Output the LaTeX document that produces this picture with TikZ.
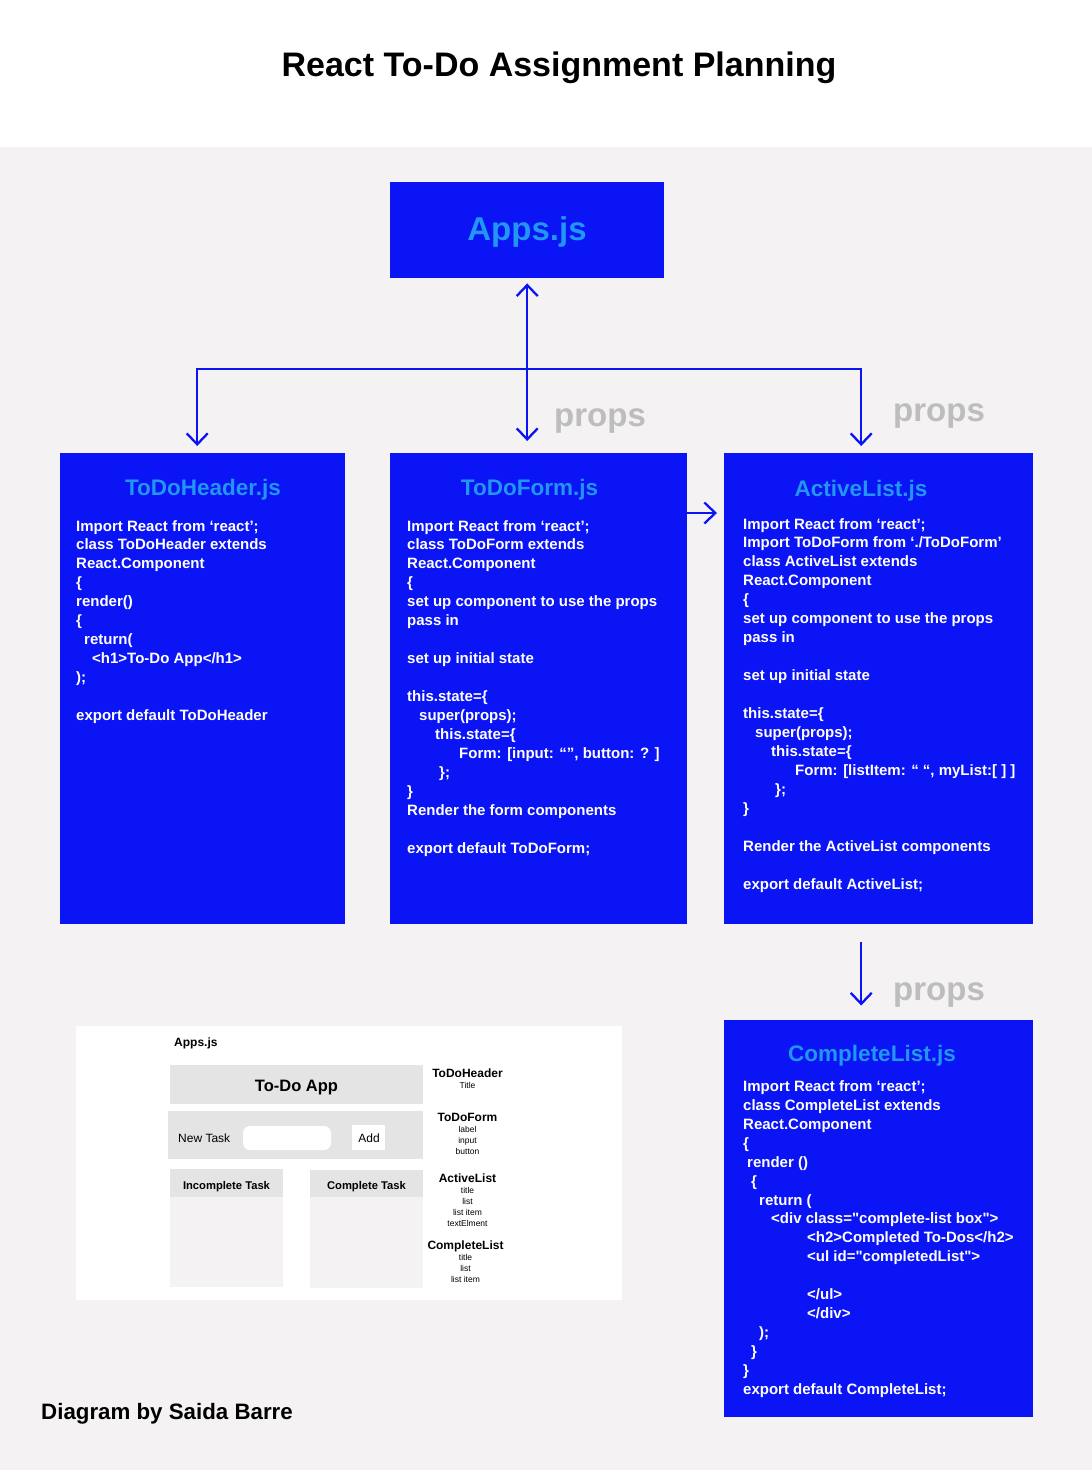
\documentclass[tikz,border=0pt]{standalone}
\usepackage{fontspec}
\setmainfont{Liberation Sans}
\usetikzlibrary{arrows.meta}

\definecolor{pagebg}{HTML}{F4F2F3}
\definecolor{compblue}{HTML}{0A14F5}
\definecolor{titleblue}{HTML}{2196F3}
\definecolor{propsgray}{HTML}{BDBDBD}
\definecolor{mockgray}{HTML}{E4E4E4}

\begin{document}
\begin{tikzpicture}[x=1pt,y=-1pt,
  compbox/.style={fill=compblue, draw=none, inner sep=0pt, anchor=north west},
  boxtitle/.style={anchor=base, inner sep=0pt, text=titleblue,
    font=\fontsize{22.5}{26}\selectfont\bfseries},
  code/.style={anchor=base west, inner sep=0pt, text=white,
    font=\fontsize{15}{18.95}\selectfont\bfseries},
  propslabel/.style={anchor=base west, inner sep=0pt, text=propsgray,
    font=\fontsize{33}{36}\selectfont\bfseries},
  link/.style={draw=compblue, line width=2.3pt},
  arr/.style={link, -{Straight Barb[length=11pt,width=21pt]}},
  darr/.style={link, {Straight Barb[length=11pt,width=21pt]}-{Straight Barb[length=11pt,width=21pt]}},
  mockbar/.style={fill=mockgray, draw=none, inner sep=0pt, anchor=north west},
  mockhead/.style={anchor=base, inner sep=0pt, font=\fontsize{12}{14}\selectfont\bfseries},
  mocksub/.style={anchor=base, inner sep=0pt, font=\fontsize{8.5}{10}\selectfont},
]

% page background
\fill[white] (0,0) rectangle (1092,147);
\fill[pagebg] (0,147) rectangle (1092,1470);
\useasboundingbox (0,0) rectangle (1092,1470);

% heading
\node[anchor=base, inner sep=0pt, font=\fontsize{34}{38}\selectfont\bfseries] (heading)
  at (559,76.7) {React To-Do Assignment Planning};

% component boxes
\node[compbox, minimum width=274pt, minimum height=96pt] (apps) at (390,182) {};
\node[compbox, minimum width=285pt, minimum height=471pt] (header) at (60,453) {};
\node[compbox, minimum width=297pt, minimum height=471pt] (form) at (390,453) {};
\node[compbox, minimum width=309pt, minimum height=471pt] (active) at (724,453) {};
\node[compbox, minimum width=309pt, minimum height=397pt] (complete) at (724,1019.5) {};

\node[anchor=base, inner sep=0pt, text=titleblue, font=\fontsize{33}{36}\selectfont\bfseries]
  (appstitle) at (527,240) {Apps.js};

\node[boxtitle] (headertitle) at (203,495) {ToDoHeader.js};
\node[boxtitle] (formtitle) at (529.5,495) {ToDoForm.js};
\node[boxtitle] (activetitle) at (861,496) {ActiveList.js};
\node[boxtitle] (completetitle) at (872,1061.5) {CompleteList.js};

% component source sketches
\node[code] (headercode) at (76,531) {\begin{minipage}[t]{300pt}
Import React from ‘react’;\\
class ToDoHeader extends\\
React.Component\\
\{\\
render()\\
\{\\
\hspace*{8pt}return(\\
\hspace*{16pt}<h1>To-Do App</h1>\\
);\\
\mbox{}\\
export default ToDoHeader
\end{minipage}};

\node[code] (formcode) at (407,531) {\begin{minipage}[t]{300pt}
Import React from ‘react’;\\
class ToDoForm extends\\
React.Component\\
\{\\
set up component to use the props\\
pass in\\
\mbox{}\\
set up initial state\\
\mbox{}\\
this.state=\{\\
\hspace*{12pt}super(props);\\
\hspace*{28pt}this.state=\{\\
\hspace*{52pt}Form: [input: “”, button: ? ]\\
\hspace*{32pt}\};\\
\}\\
Render the form components\\
\mbox{}\\
export default ToDoForm;
\end{minipage}};

\node[code] (activecode) at (743,529) {\begin{minipage}[t]{300pt}
Import React from ‘react’;\\
Import ToDoForm from ‘./ToDoForm’\\
class ActiveList extends\\
React.Component\\
\{\\
set up component to use the props\\
pass in\\
\mbox{}\\
set up initial state\\
\mbox{}\\
this.state=\{\\
\hspace*{12pt}super(props);\\
\hspace*{28pt}this.state=\{\\
\hspace*{52pt}Form: [listItem: “ “, myList:[ ] ]\\
\hspace*{32pt}\};\\
\}\\
\mbox{}\\
Render the ActiveList components\\
\mbox{}\\
export default ActiveList;
\end{minipage}};

\node[code] (completecode) at (743,1091.3) {\begin{minipage}[t]{300pt}
Import React from ‘react’;\\
class CompleteList extends\\
React.Component\\
\{\\
\hspace*{4pt}render ()\\
\hspace*{8pt}\{\\
\hspace*{16pt}return (\\
\hspace*{28pt}<div class=\textquotedbl complete-list box\textquotedbl>\\
\hspace*{64pt}<h2>Completed To-Dos</h2>\\
\hspace*{64pt}<ul id=\textquotedbl completedList\textquotedbl>\\
\mbox{}\\
\hspace*{64pt}</ul>\\
\hspace*{64pt}</div>\\
\hspace*{16pt});\\
\hspace*{8pt}\}\\
\}\\
export default CompleteList;
\end{minipage}};

% connectors
\coordinate (hub) at (527,369);
\draw[darr, shorten <=5pt, shorten >=12pt] (apps.south) -- (apps.south |- form.north);
\draw[arr, shorten >=7pt] (hub) -| ([xshift=-5.5pt]header.north);
\draw[arr, shorten >=7pt] (hub) -| ([xshift=-17.5pt]active.north);
\draw[arr, shorten >=7pt] ([yshift=-60pt]form.north east) -- ([yshift=-60pt]active.north west);
\draw[arr, shorten <=18pt, shorten >=14pt] ([xshift=-17.5pt]active.south) -- ([xshift=-17.5pt]complete.north);

\node[propslabel] (props1) at (554,426.7) {props};
\node[propslabel] (props2) at (893,421.7) {props};
\node[propslabel] (props3) at (893,1000) {props};

% layout mock-up of the app
\node[fill=white, draw=none, inner sep=0pt, anchor=north west,
  minimum width=546pt, minimum height=274pt] (mock) at (76,1026) {};
\node[anchor=base west, inner sep=0pt, font=\fontsize{12}{14}\selectfont\bfseries]
  (mockapps) at (174,1046) {Apps.js};

\node[mockbar, minimum width=253pt, minimum height=39pt] (titlebar) at (170,1065) {};
\node[anchor=base, inner sep=0pt, font=\fontsize{16.5}{20}\selectfont\bfseries]
  (titletext) at (296.5,1091) {To-Do App};

\node[mockbar, minimum width=255pt, minimum height=48pt] (formbar) at (168,1111) {};
\node[anchor=base west, inner sep=0pt, font=\fontsize{12}{14}\selectfont]
  (newtask) at (178,1142.3) {New Task};
\fill[white, rounded corners=7pt] (243,1126) rectangle (331,1150);
\node[fill=white, inner sep=0pt, anchor=north west, minimum width=33pt, minimum height=25pt]
  (addbtn) at (352,1125) {};
\node[anchor=base, inner sep=0pt, font=\fontsize{12}{14}\selectfont]
  (addtext) at (369,1142.3) {Add};

\fill[pagebg] (170,1169) rectangle (283,1287);
\node[mockbar, minimum width=113pt, minimum height=28pt] (incomplete) at (170,1169) {};
\node[anchor=base, inner sep=0pt, font=\fontsize{11.2}{13}\selectfont\bfseries]
  (incompletetext) at (226.5,1189) {Incomplete Task};

\fill[pagebg] (310,1170) rectangle (423,1288);
\node[mockbar, minimum width=113pt, minimum height=27pt] (completecol) at (310,1170) {};
\node[anchor=base, inner sep=0pt, font=\fontsize{11.2}{13}\selectfont\bfseries]
  (completecoltext) at (366.5,1189) {Complete Task};

\node[mockhead] (mh1) at (467.5,1077) {ToDoHeader};
\node[mocksub] at (467.5,1088) {Title};

\node[mockhead] (mh2) at (467.5,1121) {ToDoForm};
\node[mocksub] at (467.5,1132) {label};
\node[mocksub] at (467.5,1143) {input};
\node[mocksub] at (467.5,1154) {button};

\node[mockhead] (mh3) at (467.5,1182) {ActiveList};
\node[mocksub] at (467.5,1193) {title};
\node[mocksub] at (467.5,1204) {list};
\node[mocksub] at (467.5,1215) {list item};
\node[mocksub] at (467.5,1226) {textElment};

\node[mockhead] (mh4) at (465.5,1249.5) {CompleteList};
\node[mocksub] at (465.5,1260) {title};
\node[mocksub] at (465.5,1271) {list};
\node[mocksub] at (465.5,1282) {list item};

% credit line
\node[anchor=base west, inner sep=0pt, font=\fontsize{22.3}{26}\selectfont\bfseries]
  (credit) at (41,1419) {Diagram by Saida Barre};

\end{tikzpicture}
\end{document}
